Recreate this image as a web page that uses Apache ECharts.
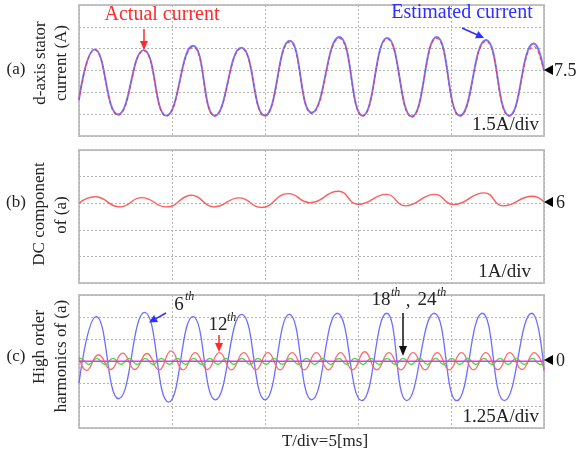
<!DOCTYPE html>
<html><head><meta charset="utf-8">
<script src="https://cdn.jsdelivr.net/npm/echarts@6/dist/echarts.min.js"></script>
<style>html,body{margin:0;padding:0;background:#fff}#c{width:582px;height:459px}</style>
</head><body><div id="c"></div>
<script>
// ---- time axis (ms) ----
const timeTicks = [0, 5, 10, 15, 20, 25];

// ---- (a) d-axis stator current ----
const aTime = [0, 0.84, 2.10, 3.48, 4.69, 6.13, 7.30, 8.73, 9.98, 11.33, 12.51, 13.99, 15.25, 16.57, 17.89, 19.23, 20.48, 21.88, 23.13, 24.46, 25];
const aEstimated = [5.5, 8.95, 4.48, 8.9, 4.4, 9.2, 4.4, 9.07, 4.4, 9.55, 4.6, 9.8, 4.4, 9.74, 4.34, 9.8, 4.4, 9.6, 4.4, 9.35, 7.5];
const aActual = [5.45, 8.9, 4.42, 8.85, 4.36, 9.1, 4.36, 9.0, 4.36, 9.45, 4.55, 9.7, 4.36, 9.65, 4.3, 9.7, 4.36, 9.5, 4.36, 9.15, 7.45];

// ---- (b) DC component ----
const bTime = [0, 0.86, 2.2, 3.37, 4.7, 6.06, 7.25, 8.62, 9.8, 11.25, 12.42, 13.94, 15.02, 16.54, 17.53, 19.14, 20.12, 21.79, 22.81, 24.37, 25];
const bDC = [6.0, 6.24, 5.86, 6.21, 5.86, 6.3, 5.86, 6.2, 5.84, 6.36, 6.02, 6.45, 5.96, 6.33, 5.9, 6.33, 5.95, 6.39, 5.9, 6.26, 6.05];

// ---- (c) high order harmonics ----
const c6Time = [0, 0.93, 2.13, 3.53, 4.82, 6.13, 7.33, 8.75, 10.0, 11.31, 12.51, 13.89, 15.2, 16.54, 17.62, 19.1, 20.31, 21.68, 22.87, 24.34, 25];
const c6Val = [-1.22, 2.53, -2.1, 2.77, -2.29, 2.53, -2.16, 2.66, -2.16, 2.66, -2.16, 2.72, -2.21, 2.72, -2.21, 2.72, -2.21, 2.72, -2.21, 2.72, -0.5];

const c12Time = [0, 0.40, 1.05, 1.70, 2.35, 3.0, 3.65, 4.30, 4.95, 5.60, 6.25, 6.90, 7.55, 8.20, 8.86, 9.51, 10.16, 10.81, 11.46, 12.11, 12.76, 13.41, 14.06, 14.71, 15.36, 16.01, 16.66, 17.31, 17.96, 18.61, 19.26, 19.91, 20.56, 21.21, 21.87, 22.52, 23.16, 23.82, 24.47, 25];
const c12Val = [0.25, -0.5, 0.38, -0.45, 0.47, -0.45, 0.45, -0.47, 0.6, -0.47, 0.5, -0.45, 0.5, -0.47, 0.5, -0.47, 0.5, -0.47, 0.5, -0.47, 0.5, -0.47, 0.5, -0.47, 0.55, -0.47, 0.5, -0.47, 0.5, -0.47, 0.5, -0.47, 0.5, -0.47, 0.5, -0.47, 0.5, -0.45, 0.5, -0.42];

const c18Time = [0, 0.09, 0.53, 0.96, 1.39, 1.83, 2.26, 2.69, 3.13, 3.56, 3.99, 4.43, 4.86, 5.29, 5.73, 6.16, 6.60, 7.03, 7.46, 7.90, 8.33, 8.76, 9.20, 9.63, 10.06, 10.50, 10.93, 11.36, 11.80, 12.23, 12.67, 13.10, 13.53, 13.97, 14.40, 14.83, 15.27, 15.70, 16.13, 16.57, 17.00, 17.43, 17.87, 18.30, 18.74, 19.17, 19.60, 20.04, 20.47, 20.90, 21.34, 21.77, 22.20, 22.64, 23.07, 23.50, 23.94, 24.37, 24.81, 25];
const c18Val = [0.17, 0.18, -0.17, 0.18, -0.17, 0.18, -0.17, 0.18, -0.17, 0.18, -0.17, 0.18, -0.17, 0.18, -0.17, 0.18, -0.17, 0.18, -0.17, 0.18, -0.17, 0.18, -0.17, 0.18, -0.17, 0.18, -0.17, 0.18, -0.17, 0.18, -0.17, 0.18, -0.17, 0.18, -0.17, 0.18, -0.17, 0.18, -0.17, 0.18, -0.17, 0.18, -0.17, 0.18, -0.17, 0.18, -0.17, 0.18, -0.17, 0.18, -0.17, 0.18, -0.17, 0.18, -0.17, 0.18, -0.17, 0.18, -0.17, -0.1];

const c24Time = [0, 5, 10, 15, 20, 25];
const c24Val = [0.01, 0.01, 0.01, 0.01, 0.01, 0.01];

// ---- axis scales ----
const aRange = [3, 12, 1.5];
const bRange = [3, 8, 1];
const cRange = [-3.75, 3.75, 1.25];

function zip(t, v) { return t.map((x, i) => [x, v[i]]); }

const chart = echarts.init(document.getElementById('c'), null, {renderer: 'canvas'});
const FONT = '"Liberation Serif", "Times New Roman", serif';
const gridStyle = {show: true, borderColor: '#c4c4c4', borderWidth: 2, backgroundColor: 'transparent'};
const grids = [
  Object.assign({left: 79, top: 5, width: 465, height: 131}, gridStyle),
  Object.assign({left: 79, top: 150, width: 465, height: 133}, gridStyle),
  Object.assign({left: 79, top: 295, width: 465, height: 133}, gridStyle)
];
const split = {show: true, lineStyle: {color: '#b4b4b4', type: [2, 2], width: 1}};
function xAx(i) {
  return {type: 'value', gridIndex: i, min: timeTicks[0], max: timeTicks[timeTicks.length - 1], interval: timeTicks[1] - timeTicks[0],
    axisLine: {show: false}, axisTick: {show: false}, axisLabel: {show: false}, splitLine: split};
}
function yAx(i, r) {
  return {type: 'value', gridIndex: i, min: r[0], max: r[1], interval: r[2],
    axisLine: {show: false}, axisTick: {show: false}, axisLabel: {show: false}, splitLine: split};
}
function ser(gi, data, color, width, z, extra) {
  const ls = Object.assign({color: color, width: width}, extra || {});
  return {type: 'line', xAxisIndex: gi, yAxisIndex: gi, data: data, showSymbol: false, smooth: 0.5,
    lineStyle: ls, itemStyle: {color: color}, z: z, silent: true};
}

function txt(x, y, text, size, color, opts) {
  opts = opts || {};
  return {type: 'text', x: x, y: y, rotation: opts.rot || 0, z: 100, silent: true,
    style: {text: text, fill: color, font: (opts.italic ? 'italic ' : '') + size + 'px ' + FONT,
      textAlign: opts.align || 'center', align: opts.align || 'center', textVerticalAlign: 'middle', verticalAlign: 'middle'}};
}
function tri(pts, color) { return {type: 'polygon', z: 100, silent: true, shape: {points: pts}, style: {fill: color}}; }
function ln(x1, y1, x2, y2, color) { return {type: 'line', z: 100, silent: true, shape: {x1: x1, y1: y1, x2: x2, y2: y2}, style: {stroke: color, lineWidth: 1.5}}; }

const R = Math.PI / 2;
const dark = '#222';
const graphics = [
  txt(16, 70, '(a)', 17, dark), txt(41, 63, 'd-axis stator', 17, dark, {rot: R}), txt(62, 63, 'current (A)', 17, dark, {rot: R}),
  txt(16, 203, '(b)', 17, dark), txt(40, 214, 'DC component', 17, dark, {rot: R}), txt(62, 215, 'of (a)', 17, dark, {rot: R}),
  txt(16, 357, '(c)', 17, dark), txt(40, 347, 'High order', 17, dark, {rot: R}), txt(62, 356, 'harmonics of (a)', 17, dark, {rot: R}),
  // right markers
  tri([[544, 70], [553, 65], [553, 75]], '#000'), txt(554, 71, '7.5', 18, dark, {align: 'left'}),
  tri([[544, 202], [553, 197], [553, 207]], '#000'), txt(556, 203, '6', 18, dark, {align: 'left'}),
  tri([[544, 360], [553, 355], [553, 365]], '#000'), txt(556, 361, '0', 18, dark, {align: 'left'}),
  // scale labels
  txt(539, 125, '1.5A/div', 19, dark, {align: 'right'}),
  txt(531, 272, '1A/div', 19, dark, {align: 'right'}),
  txt(539, 417, '1.25A/div', 19, dark, {align: 'right'}),
  txt(325, 442, 'T/div=5[ms]', 17, dark),
  // annotations (a)
  txt(162, 15, 'Actual current', 20, '#ff2a2a'),
  ln(144, 29, 144, 43, '#ff2a2a'), tri([[144, 50], [140, 41], [148, 41]], '#ff2a2a'),
  txt(462, 13, 'Estimated current', 20, '#2f2fff'),
  ln(462, 28, 477, 34.7, '#2f2fff'), tri([[484, 38], [475.1, 38.3], [478.3, 31.1]], '#2f2fff'),
  // annotations (c)
  txt(179, 305, '6', 19, dark), txt(185, 297, 'th', 12, dark, {align: 'left', italic: true}),
  ln(166, 313, 156, 318.6, '#2f2fff'), tri([[149, 322.5], [154, 315.1], [158, 322.1]], '#2f2fff'),
  txt(218, 325, '12', 19, dark), txt(227, 318, 'th', 12, dark, {align: 'left', italic: true}),
  ln(219, 335, 219, 345, '#ff2a2a'), tri([[219, 352], [215, 343], [223, 343]], '#ff2a2a'),
  txt(381, 300, '18', 19, dark), txt(391, 293, 'th', 12, dark, {align: 'left', italic: true}),
  txt(408, 301, ',', 19, dark),
  txt(427, 300, '24', 19, dark), txt(437, 293, 'th', 12, dark, {align: 'left', italic: true}),
  ln(403, 313, 403, 348, '#111'), tri([[403, 356], [399, 346], [407, 346]], '#111')
];

chart.setOption({
  animation: false,
  backgroundColor: '#fff',
  grid: grids,
  xAxis: [xAx(0), xAx(1), xAx(2)],
  yAxis: [yAx(0, aRange), yAx(1, bRange), yAx(2, cRange)],
  series: [
    ser(0, zip(aTime, aEstimated), '#7474ff', 1.9, 3),
    ser(0, zip(aTime, aActual), '#ff3030', 1.2, 4, {type: [3, 3], opacity: 0.85}),
    ser(1, zip(bTime, bDC), '#ff5c5c', 1.4, 3),
    ser(2, zip(c6Time, c6Val), '#6d6dff', 1.3, 3),
    ser(2, zip(c12Time, c12Val), '#ff6a6a', 1.3, 4),
    ser(2, zip(c18Time, c18Val), '#4ad84a', 1.3, 5),
    ser(2, zip(c24Time, c24Val), '#ff22ff', 1.5, 6)
  ],
  graphic: {elements: graphics}
});
</script>
</body></html>
